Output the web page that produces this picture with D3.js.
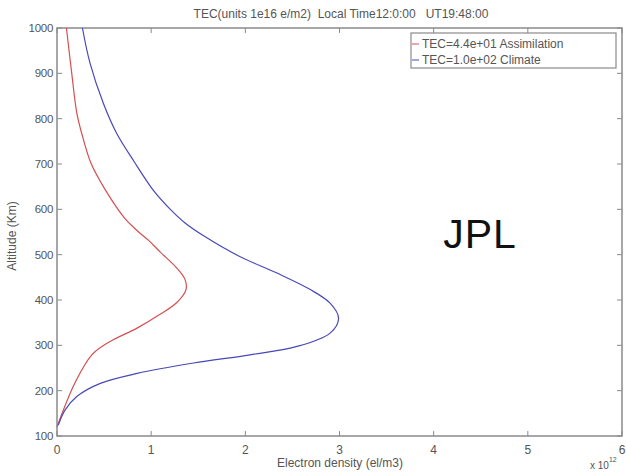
<!DOCTYPE html>
<html>
<head>
<meta charset="utf-8">
<script src="https://cdn.jsdelivr.net/npm/d3@7"></script>
<style>
  body { margin: 0; background: #fff; }
  svg text { font-family: "Liberation Sans", Arial, sans-serif; }
</style>
</head>
<body>
<svg id="chart" width="626" height="473"></svg>
<script>
// Electron density profiles (x in units of 1e12 el/m3, altitude in km)
const assimDensity = [0.0, 0.067, 0.19, 0.37, 0.56, 0.85, 1.09, 1.27, 1.37, 1.36, 1.27, 1.10, 0.97, 0.84, 0.72, 0.51, 0.36, 0.27, 0.21, 0.156, 0.10];
const assimAltitude = [120, 157, 217, 279, 308, 338, 368, 394, 423, 445, 471, 505, 532, 555, 580, 644, 702, 762, 813, 901, 1000];

const climDensity = [0.014, 0.085, 0.21, 0.46, 0.85, 1.45, 2.05, 2.54, 2.90, 2.99, 2.90, 2.69, 2.33, 1.94, 1.57, 1.36, 1.18, 1.03, 0.82, 0.63, 0.49, 0.35, 0.27];
const climAltitude = [124, 157, 187, 216, 238, 261, 279, 297, 327, 360, 393, 423, 460, 496, 540, 570, 605, 640, 705, 769, 835, 923, 1000];

const xTicks = [0, 1, 2, 3, 4, 5, 6];
const yTicks = [100, 200, 300, 400, 500, 600, 700, 800, 900, 1000];
const legendLabels = ["TEC=4.4e+01 Assimilation", "TEC=1.0e+02 Climate"];

const svg = d3.select("#chart");
const m = {left: 57, top: 28, right: 622, bottom: 436};
const x = d3.scaleLinear().domain([0, 6]).range([m.left, m.right]);
const y = d3.scaleLinear().domain([100, 1000]).range([m.bottom, m.top]);
const axisColor = "#8a8a8a", textColor = "#555";

// frame
svg.append("rect")
  .attr("x", m.left).attr("y", m.top)
  .attr("width", m.right - m.left).attr("height", m.bottom - m.top)
  .attr("fill", "none").attr("stroke", axisColor).attr("stroke-width", 1.5);

// inward ticks on all four sides
const g = svg.append("g").attr("stroke", axisColor).attr("stroke-width", 1);
xTicks.forEach(t => {
  g.append("line").attr("x1", x(t)).attr("x2", x(t)).attr("y1", m.bottom).attr("y2", m.bottom - 5);
  g.append("line").attr("x1", x(t)).attr("x2", x(t)).attr("y1", m.top).attr("y2", m.top + 5);
});
yTicks.forEach(t => {
  g.append("line").attr("x1", m.left).attr("x2", m.left + 5).attr("y1", y(t)).attr("y2", y(t));
  g.append("line").attr("x1", m.right).attr("x2", m.right - 5).attr("y1", y(t)).attr("y2", y(t));
});

svg.append("g").selectAll("text").data(xTicks).join("text")
  .attr("x", d => x(d)).attr("y", m.bottom + 18)
  .attr("text-anchor", "middle").attr("font-size", 12).attr("fill", textColor)
  .text(d => d);
svg.append("g").selectAll("text").data(yTicks).join("text")
  .attr("x", m.left - 4).attr("y", d => y(d) + 4)
  .attr("text-anchor", "end").attr("font-size", 11.5).attr("fill", textColor)
  .attr("letter-spacing", -0.3)
  .text(d => d);

// curves
const line = d3.line().x(d => x(d[0])).y(d => y(d[1])).curve(d3.curveCatmullRom);
svg.append("path")
  .datum(d3.zip(assimDensity, assimAltitude))
  .attr("d", line).attr("fill", "none").attr("stroke", "#d45050").attr("stroke-width", 1.2);
svg.append("path")
  .datum(d3.zip(climDensity, climAltitude))
  .attr("d", line).attr("fill", "none").attr("stroke", "#4848b8").attr("stroke-width", 1.2);

// title & labels
svg.append("text").attr("x", 341).attr("y", 18).attr("text-anchor", "middle")
  .attr("font-size", 12).attr("fill", textColor).attr("xml:space", "preserve")
  .text("TEC(units 1e16 e/m2)  Local Time12:0:00   UT19:48:00");
svg.append("text").attr("x", 340).attr("y", 467).attr("text-anchor", "middle")
  .attr("font-size", 12).attr("fill", textColor)
  .text("Electron density (el/m3)");
svg.append("text").attr("transform", "translate(16,236) rotate(-90)").attr("text-anchor", "middle")
  .attr("font-size", 12).attr("fill", textColor)
  .text("Altitude (Km)");
const sx = svg.append("text").attr("x", 590).attr("y", 469).attr("font-size", 10).attr("fill", textColor);
sx.append("tspan").text("x 10");
sx.append("tspan").attr("dy", -7).attr("font-size", 7).text("12");

// legend
const lg = svg.append("g");
lg.append("rect").attr("x", 411).attr("y", 33).attr("width", 205).attr("height", 35)
  .attr("fill", "#fff").attr("stroke", axisColor).attr("stroke-width", 1.2);
const legendColors = ["#d45050", "#4848b8"];
legendLabels.forEach((lab, i) => {
  const ly = 44 + i * 16;
  lg.append("line").attr("x1", 412).attr("x2", 419).attr("y1", ly).attr("y2", ly)
    .attr("stroke", legendColors[i]).attr("stroke-width", 1);
  lg.append("text").attr("x", 422).attr("y", ly + 4).attr("font-size", 12).attr("fill", textColor).text(lab);
});

// watermark
svg.append("text").attr("x", 480).attr("y", 248).attr("text-anchor", "middle")
  .attr("font-size", 41).attr("letter-spacing", 1).attr("fill", "#111").text("JPL");
</script>
</body>
</html>
